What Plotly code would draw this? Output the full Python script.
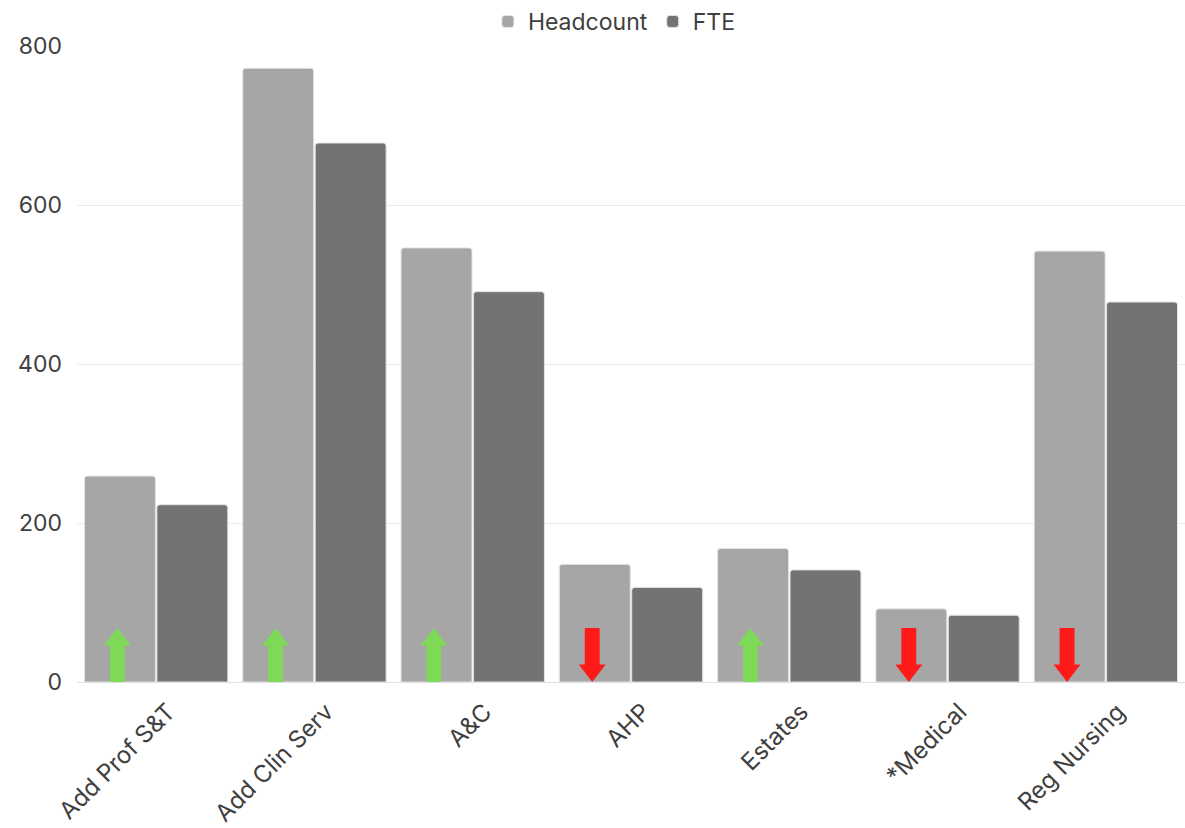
import plotly.graph_objects as go

# Staff groups and workforce figures
categories = ["Add Prof S&T", "Add Clin Serv", "A&C", "AHP", "Estates", "*Medical", "Reg Nursing"]
headcount = [259, 772, 546, 148, 168, 92, 542]
fte = [223, 678, 491, 119, 141, 84, 478]
# Direction of change for each staff group
trend = ["up", "up", "up", "down", "up", "down", "down"]

HC_COLOR = "#A6A6A6"
FTE_COLOR = "#737373"
TEXT_COLOR = "#404040"
FONT = "Inter, Noto Sans, sans-serif"

fig = go.Figure()
fig.add_trace(go.Bar(name="Headcount", x=categories, y=headcount,
                     marker=dict(color=HC_COLOR, line=dict(color="#E4E4E4", width=1))))
fig.add_trace(go.Bar(name="FTE", x=categories, y=fte,
                     marker=dict(color=FTE_COLOR, line=dict(color="#E4E4E4", width=1))))

# Trend arrows drawn inside the headcount bars
ARROW_LEN = 68        # y units
HEAD_LEN = 22
HEAD_W = 0.085        # half-widths in category units
SHAFT_W = 0.047
ARROW_OFFSET = -0.245
for i, t in enumerate(trend):
    cx = i + ARROW_OFFSET
    if t == "up":
        tip, base, neck = ARROW_LEN, 0, ARROW_LEN - HEAD_LEN
        color = "#7ED957"
    else:
        tip, base, neck = 0, ARROW_LEN, HEAD_LEN
        color = "#FF1A1A"
    path = (f"M {cx - SHAFT_W} {base} L {cx - SHAFT_W} {neck} L {cx - HEAD_W} {neck} "
            f"L {cx} {tip} L {cx + HEAD_W} {neck} L {cx + SHAFT_W} {neck} "
            f"L {cx + SHAFT_W} {base} Z")
    fig.add_shape(type="path", path=path, xref="x", yref="y",
                  fillcolor=color, line=dict(width=0), layer="above")

fig.update_layout(
    width=1185, height=828,
    margin=dict(l=77, r=0, t=46, b=146, autoexpand=False),
    paper_bgcolor="white", plot_bgcolor="white",
    barmode="group", bargap=0.085, bargroupgap=0.02,
    barcornerradius=3,
    font=dict(family=FONT, size=23, color=TEXT_COLOR),
    legend=dict(orientation="h", x=0.485, xanchor="center", y=1.0, yanchor="top",
                yref="container", font=dict(size=23, color=TEXT_COLOR),
                itemwidth=30, tracegroupgap=0),
    showlegend=True,
)
fig.update_xaxes(tickangle=-45, showline=False, ticks="",
                 ticklabelstandoff=10, ticklabelshift=12,
                 tickfont=dict(size=24, color=TEXT_COLOR))
fig.update_yaxes(range=[0, 800], tickvals=[0, 200, 400, 600, 800],
                 gridcolor="#EBEBEB", gridwidth=1, zeroline=True,
                 zerolinecolor="#E0E0E0", zerolinewidth=1, showline=False,
                 ticks="", ticklabelstandoff=14,
                 tickfont=dict(size=23, color=TEXT_COLOR))

fig.write_html("out.html")
